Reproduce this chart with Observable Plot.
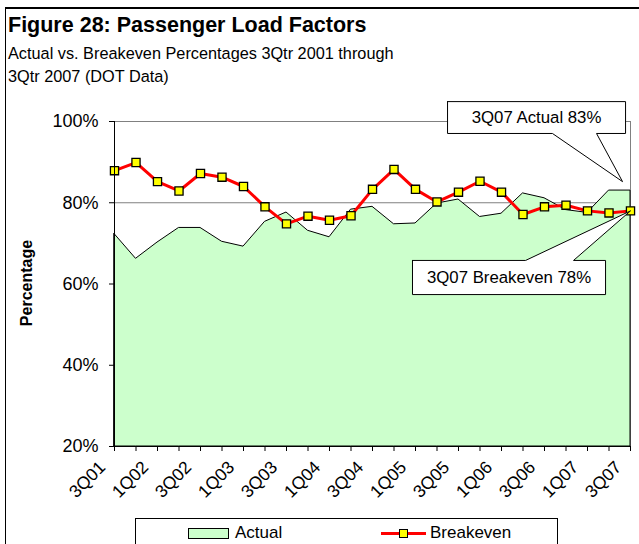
<!DOCTYPE html>
<html><head><meta charset="utf-8">
<script src="https://cdn.jsdelivr.net/npm/d3@7"></script>
<script src="https://cdn.jsdelivr.net/npm/@observablehq/plot@0.6"></script>
<style>
body{margin:0;background:#fff;font-family:"Liberation Sans",Arial,sans-serif;color:#000;}
#wrap{position:relative;width:639px;height:544px;overflow:hidden;background:#fff;}
#chart{position:absolute;left:0;top:0;}
.frame{position:absolute;left:5px;top:7px;width:700px;height:600px;border:1px solid #000;border-top-width:2px;pointer-events:none;}
.title{position:absolute;left:8px;top:13px;font-size:21.5px;font-weight:bold;white-space:nowrap;line-height:1.117;}
.sub{position:absolute;left:8px;top:42px;font-size:16.3px;line-height:23px;white-space:nowrap;}
.ylab{position:absolute;left:27px;top:283px;transform:translate(-50%,-50%) rotate(-90deg);font-size:16px;font-weight:bold;white-space:nowrap;}
.legend{position:absolute;left:135px;top:518px;width:421px;height:40px;border:1px solid #000;background:#fff;}
.sw{position:absolute;left:52px;top:9px;width:39px;height:9px;background:#ccffcc;border:1px solid #000;}
.lt{position:absolute;font-size:17px;line-height:20px;top:4px;white-space:nowrap;}
.rl{position:absolute;left:245px;top:13px;width:45px;height:3px;background:#ff0000;}
.sq{position:absolute;left:263px;top:10px;width:7px;height:7px;background:#ffff00;border:1px solid #000;}
</style></head><body>
<div id="wrap">
  <div id="chart"></div>
  <div class="frame"></div>
  <div class="title">Figure 28: Passenger Load Factors</div>
  <div class="sub">Actual vs. Breakeven Percentages 3Qtr 2001 through<br>3Qtr 2007 (DOT Data)</div>
  <div class="ylab">Percentage</div>
  <div class="legend">
    <div class="sw"></div><div class="lt" style="left:99px">Actual</div>
    <div class="rl"></div><div class="sq"></div><div class="lt" style="left:294px">Breakeven</div>
  </div>
</div>
<script>
const quarters = ["3Q01","4Q01","1Q02","2Q02","3Q02","4Q02","1Q03","2Q03","3Q03","4Q03","1Q04","2Q04","3Q04","4Q04","1Q05","2Q05","3Q05","4Q05","1Q06","2Q06","3Q06","4Q06","1Q07","2Q07","3Q07"];
const actual = [72.3, 66.2, 70.2, 73.8, 73.8, 70.4, 69.2, 75.3, 77.6, 73.1, 71.5, 78.3, 79.0, 74.7, 74.9, 79.8, 80.8, 76.5, 77.3, 82.3, 81.1, 78.2, 77.5, 83, 83];
const breakeven = [87.9, 89.9, 85.2, 82.9, 87.2, 86.3, 84.0, 79.0, 74.8, 76.7, 75.7, 76.8, 83.3, 88.2, 83.3, 80.2, 82.6, 85.3, 82.6, 77.1, 79.0, 79.4, 78.0, 77.5, 78.0];
const yTicks = [20, 40, 60, 80, 100];

const rows = quarters.map((q, i) => ({i, q, actual: actual[i], breakeven: breakeven[i]}));
const last = quarters.length - 1;
const xTicks = d3.range(quarters.length);

// callout shapes (annotation geometry in data units: quarter index, percent)
const calloutA = {L: 15.49, R: 23.77, T: 104.9, B: 97.05, a: 20.37, b: 22.42, tip: [23.63, 85.2], text: "3Q07 Actual 83%"};
const calloutB = {L: 13.86, R: 22.84, T: 65.8, B: 57.4, a: 19.12, b: 21.35, tip: [last, breakeven[last]], text: "3Q07 Breakeven 78%"};
const polyA = [[calloutA.L, calloutA.T],[calloutA.R, calloutA.T],[calloutA.R, calloutA.B],[calloutA.b, calloutA.B],calloutA.tip,[calloutA.a, calloutA.B],[calloutA.L, calloutA.B],[calloutA.L, calloutA.T]];
const polyB = [[calloutB.L, calloutB.T],[calloutB.a, calloutB.T],calloutB.tip,[calloutB.b, calloutB.T],[calloutB.R, calloutB.T],[calloutB.R, calloutB.B],[calloutB.L, calloutB.B],[calloutB.L, calloutB.T]];

const font = '"Liberation Sans", Arial, sans-serif';
const chart = Plot.plot({
  width: 639, height: 544,
  marginTop: 121, marginBottom: 98, marginLeft: 114, marginRight: 9,
  x: {type: "linear", domain: [0, last]},
  y: {domain: [20, 100]},
  style: {fontFamily: font, fontSize: "17px", color: "#000", background: "transparent", overflow: "visible"},
  marks: [
    Plot.gridY(yTicks, {stroke: "#808080", strokeOpacity: 1}),
    Plot.frame({stroke: "#808080"}),
    Plot.areaY(rows, {x: "i", y1: 20, y2: "actual", fill: "#ccffcc", stroke: "#000", strokeWidth: 1}),
    Plot.line(rows, {x: "i", y: "breakeven", stroke: "#ff0000", strokeWidth: 3}),
    Plot.dot(rows, {x: "i", y: "breakeven", symbol: "square", r: 4.6, fill: "#ffff00", stroke: "#000", strokeWidth: 1.3}),
    Plot.ruleX([0], {stroke: "#000"}),
    Plot.ruleY([20], {stroke: "#000"}),
    Plot.axisY(yTicks, {tickFormat: d => d + "%", tickSize: 5, tickPadding: 11, fontSize: 18, label: null}),
    Plot.axisX(xTicks, {tickFormat: () => "", tickSize: 5, label: null}),
    Plot.axisX(xTicks, {tickFormat: i => i % 2 === 0 ? quarters[i] : "", tickRotate: -45, tickSize: 0, tickPadding: 12, dx: -12, dy: 6, fontSize: 17.5, label: null}),
    Plot.line(polyA, {x: d => d[0], y: d => d[1], fill: "#fff", stroke: "#000", strokeWidth: 1}),
    Plot.text([calloutA], {x: d => (d.L + d.R) / 2, y: d => (d.T + d.B) / 2, text: "text", fontSize: 16.8, fill: "#000"}),
    Plot.line(polyB, {x: d => d[0], y: d => d[1], fill: "#fff", stroke: "#000", strokeWidth: 1}),
    Plot.text([calloutB], {x: d => (d.L + d.R) / 2, y: d => (d.T + d.B) / 2, text: "text", fontSize: 16.8, fill: "#000"})
  ]
});
document.getElementById("chart").appendChild(chart);
</script>
</body></html>
